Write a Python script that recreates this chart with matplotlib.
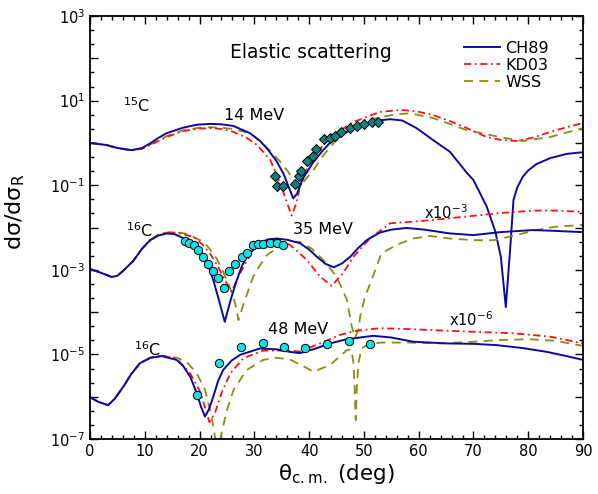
import numpy as np
import matplotlib
matplotlib.use("Agg")
import matplotlib.pyplot as plt
from matplotlib.ticker import FixedLocator, FuncFormatter, MultipleLocator

# ---- 14 MeV (15C), log10 of ratio ----
th14_ch = [0, 3, 5, 7.6, 9.5, 11, 12.5, 14, 17, 19.5, 22, 24, 26.2, 29.2, 31, 32.3, 34, 35.3, 36.3,
           37.1, 37.8, 38.9, 40.8, 42.5, 43.8, 46.9, 50, 52, 54.8, 57, 59.6, 62.6, 65.7, 68.8, 70,
           72.4, 74, 75, 75.9, 76.7, 77.3, 78, 79, 80, 81.5, 84, 87, 90]
lg14_ch = [0.0, -0.05, -0.12, -0.17, -0.12, -0.01, 0.12, 0.23, 0.36, 0.43, 0.45, 0.44, 0.40, 0.23, 0.05,
           -0.13, -0.42, -0.72, -1.05, -1.31, -1.20, -0.83, -0.45, -0.18, 0.0, 0.26, 0.44, 0.52, 0.56,
           0.53, 0.35, 0.07, -0.21, -0.71, -0.88, -1.5, -2.1, -2.7, -3.88, -2.5, -1.35, -1.05, -0.80,
           -0.65, -0.50, -0.36, -0.26, -0.22]
th14_kd = [0, 3, 5, 7.6, 9.5, 11, 14, 17, 20, 22, 24, 26, 28.6, 30.5, 32.9, 34.7, 35.8, 36.8, 37.6,
           38.3, 39.5, 40.8, 43.8, 48, 52.9, 56.6, 59.5, 62.6, 66, 68.8, 72.4, 75, 77.9, 81, 84, 87, 90]
lg14_kd = [0.0, -0.05, -0.12, -0.18, -0.14, -0.05, 0.14, 0.28, 0.34, 0.35, 0.33, 0.27, 0.12, -0.05,
           -0.40, -0.95, -1.35, -1.72, -1.45, -1.05, -0.65, -0.33, 0.14, 0.49, 0.73, 0.78, 0.75, 0.66,
           0.50, 0.35, 0.14, 0.07, 0.045, 0.13, 0.26, 0.37, 0.47]
th14_ws = [0, 3, 5, 7.6, 9.5, 11, 14, 17, 20, 22, 24, 26, 29.2, 31, 32.9, 34.7, 36.2, 37.4, 38.1,
           38.8, 40.8, 42.6, 45, 48, 52.4, 56, 58.4, 62.6, 68.8, 74.8, 79, 84, 90]
lg14_ws = [0.0, -0.05, -0.12, -0.18, -0.13, -0.04, 0.16, 0.30, 0.36, 0.37, 0.36, 0.33, 0.23, 0.05,
           -0.19, -0.44, -0.69, -0.92, -1.04, -0.95, -0.64, -0.29, 0.07, 0.38, 0.59, 0.68, 0.70, 0.59,
           0.30, 0.14, 0.045, 0.14, 0.35]
th14_exp = [33.8, 34.1, 35.3, 37.4, 38.2, 38.6, 39.7, 40.7, 41.3, 42.7, 43.8, 44.7, 45.9, 47.5,
            48.7, 50.1, 51.4, 52.6]
lg14_exp = [-0.78, -1.01, -1.01, -0.97, -0.78, -0.66, -0.43, -0.31, -0.15, 0.09, 0.11, 0.17, 0.25,
            0.36, 0.41, 0.44, 0.49, 0.50]

# ---- 35 MeV (16C), x10^-3 ----
th35_ch = [0, 2, 4, 5, 6, 7.9, 9.5, 11, 12.5, 14, 15.5, 17, 18.5, 20.1, 21.5, 22.5, 23.5, 24.6, 25.7,
           26.8, 27.7, 28.6, 31, 32.5, 34.1, 36, 38.3, 40, 41.4, 43, 44.5, 46, 47.5, 49, 50.5, 52.9,
           55, 57.8, 61, 65.7, 70, 74.8, 80.9, 85, 90]
lg35_ch = [-2.98, -3.07, -3.17, -3.14, -3.03, -2.79, -2.50, -2.30, -2.19, -2.14, -2.16, -2.25, -2.38,
           -2.57, -2.85, -3.24, -3.70, -4.23, -3.70, -3.24, -2.92, -2.69, -2.37, -2.28, -2.26, -2.29,
           -2.37, -2.52, -2.69, -2.86, -2.94, -2.85, -2.69, -2.48, -2.30, -2.12, -2.05, -2.01, -2.05,
           -2.14, -2.18, -2.11, -2.06, -2.08, -2.11]
th35_kd = [0, 2, 4, 5, 6, 7.9, 9.5, 11, 12.5, 14, 15.5, 17, 18.9, 20.5, 21.9, 23.4, 24.6, 25.9, 26.8,
           28, 29.8, 31.6, 33, 34.1, 36.5, 38, 39.6, 42, 44.1, 46.2, 48.1, 51.1, 54.8, 59, 62.7, 68.8,
           74.8, 80.9, 85, 90]
lg35_kd = [-2.98, -3.07, -3.17, -3.14, -3.03, -2.79, -2.50, -2.29, -2.17, -2.12, -2.12, -2.16, -2.22,
           -2.40, -2.61, -2.93, -3.24, -3.52, -3.24, -2.93, -2.53, -2.34, -2.29, -2.30, -2.41, -2.58,
           -2.77, -3.16, -3.38, -3.08, -2.69, -2.26, -1.90, -1.86, -1.82, -1.74, -1.66, -1.60, -1.60,
           -1.63]
th35_ws = [0, 2, 4, 5, 6, 7.9, 9.5, 11, 12.5, 14, 15.5, 17.3, 18.5, 20.1, 21.5, 23.1, 24.5, 25.6,
           26.5, 27.1, 27.8, 28.3, 29.8, 31, 32.3, 34.1, 37.1, 38.3, 40.5, 42.6, 45, 46.9, 47.8, 48.4,
           49, 49.3, 50.2, 51.4, 53.2, 56, 59, 62, 65.7, 70, 73.7, 77.8, 81.5, 85, 90]
lg35_ws = [-2.98, -3.07, -3.17, -3.14, -3.03, -2.79, -2.50, -2.29, -2.17, -2.12, -2.11, -2.14, -2.20,
           -2.30, -2.45, -2.73, -3.10, -3.44, -3.79, -4.19, -3.90, -3.71, -3.16, -2.90, -2.65, -2.49,
           -2.34, -2.34, -2.50, -2.77, -3.16, -3.71, -4.35, -4.60, -4.42, -4.11, -3.64, -3.24, -2.61,
           -2.41, -2.26, -2.20, -2.26, -2.30, -2.30, -2.18, -2.06, -1.98, -1.94]
th35_exp = [17.3, 18.1, 18.9, 19.8, 20.7, 21.5, 22.5, 23.4, 24.5, 25.4, 26.5, 27.7, 28.7, 29.7,
            30.7, 31.6, 32.9, 34.1, 35.3]
lg35_exp = [-2.31, -2.36, -2.41, -2.53, -2.70, -2.86, -3.02, -3.20, -3.42, -3.02, -2.86, -2.70,
            -2.61, -2.41, -2.39, -2.39, -2.36, -2.36, -2.41]

# ---- 48 MeV (16C), x10^-6 ----
th48_ch = [0, 1.5, 3.3, 4.5, 6.1, 7.5, 9.1, 11, 13.1, 15.8, 17, 18.3, 19.5, 20.3, 21, 21.7, 22.5,
           23.4, 24.3, 25.8, 27.4, 31, 34.1, 36.5, 38.3, 41, 43.8, 46.9, 51.7, 55, 59, 65.1, 70, 74.2,
           79, 83.4, 87, 90]
lg48_ch = [-6.01, -6.12, -6.20, -6.05, -5.76, -5.47, -5.21, -5.08, -5.04, -5.13, -5.27, -5.53, -5.92,
           -6.25, -6.47, -6.30, -6.00, -5.62, -5.37, -5.15, -5.01, -4.86, -4.88, -4.94, -4.97, -4.87,
           -4.74, -4.64, -4.56, -4.60, -4.70, -4.74, -4.75, -4.78, -4.85, -4.94, -5.04, -5.13]
th48_kd = [0, 1.5, 3.3, 4.5, 6.1, 7.5, 9.1, 11, 13.1, 15.8, 18.3, 20.1, 21, 21.8, 22.8, 24, 25.6, 28,
           31.6, 35.3, 38.3, 42, 45.6, 48.7, 52.9, 58, 65.1, 71, 77.3, 84, 90]
lg48_kd = [-6.01, -6.12, -6.20, -6.05, -5.76, -5.47, -5.21, -5.08, -5.03, -5.10, -5.45, -5.88, -6.25,
           -6.60, -6.39, -5.92, -5.45, -5.09, -4.91, -4.91, -4.93, -4.74, -4.54, -4.44, -4.38, -4.40,
           -4.44, -4.47, -4.50, -4.58, -4.74]
th48_ws = [0, 1.5, 3.3, 4.5, 6.1, 7.5, 9.1, 11, 13.1, 15.8, 17.6, 19.5, 21, 22.2, 22.8, 23.3, 24,
           25, 26.2, 28.6, 31.6, 34.1, 36.5, 38.5, 40.8, 43.8, 46.9, 47.7, 48.1, 48.3, 48.5, 48.7, 49,
           49.6, 51, 53, 58, 64, 70, 75, 80, 85, 90]
lg48_ws = [-6.01, -6.12, -6.20, -6.05, -5.76, -5.47, -5.21, -5.08, -5.03, -5.08, -5.17, -5.45, -5.84,
           -6.47, -6.95, -7.30, -6.87, -6.31, -5.84, -5.37, -5.13, -5.08, -5.12, -5.25, -5.41, -5.25,
           -4.90, -4.88, -5.21, -5.76, -6.55, -5.80, -5.20, -4.85, -4.76, -4.72, -4.72, -4.74, -4.70,
           -4.66, -4.64, -4.68, -4.80]
th48_exp = [19.6, 23.6, 27.5, 31.5, 35.4, 39.2, 43.2, 47.2, 51.1]
lg48_exp = [-5.96, -5.21, -4.83, -4.72, -4.82, -4.84, -4.75, -4.68, -4.75]

BLUE = '#0A0AA0'
RED = '#FF1010'
OLIVE = '#8C8C10'

fig = plt.figure(figsize=(5.98, 4.94), dpi=100)
ax = fig.add_axes([0.1505, 0.1113, 0.8245, 0.8563])

kd_style = dict(color=RED, lw=1.3, dashes=(4, 2, 1, 2))
ws_style = dict(color=OLIVE, lw=1.3, dashes=(5, 3.5))
ch_style = dict(color=BLUE, lw=1.4)

groups = [
    (th14_ch, lg14_ch, th14_kd, lg14_kd, th14_ws, lg14_ws),
    (th35_ch, lg35_ch, th35_kd, lg35_kd, th35_ws, lg35_ws),
    (th48_ch, lg48_ch, th48_kd, lg48_kd, th48_ws, lg48_ws),
]
for i, (tc, lc, tk, lk, tw, lw_) in enumerate(groups):
    ax.plot(tw, 10 ** np.array(lw_), label='WSS' if i == 0 else None, **ws_style)
    ax.plot(tk, 10 ** np.array(lk), label='KD03' if i == 0 else None, **kd_style)
    ax.plot(tc, 10 ** np.array(lc), label='CH89' if i == 0 else None, **ch_style)

ax.plot(th14_exp, 10 ** np.array(lg14_exp), 'D', ms=5, mfc='#108080', mec='black', mew=0.7, zorder=5)
ax.plot(th35_exp, 10 ** np.array(lg35_exp), 'o', ms=6, mfc='#10E0E8', mec='black', mew=0.7, zorder=5)
ax.plot(th48_exp, 10 ** np.array(lg48_exp), 'o', ms=6, mfc='#10E0E8', mec='black', mew=0.7, zorder=5)

ax.set_yscale('log')
ax.set_xlim(0, 90)
ax.set_ylim(1e-7, 1e3)

ax.xaxis.set_major_locator(MultipleLocator(10))
ax.xaxis.set_minor_locator(MultipleLocator(2))
decades = list(range(-7, 4))
ax.yaxis.set_major_locator(FixedLocator([10.0 ** d for d in decades]))
ax.yaxis.set_minor_locator(FixedLocator([10.0 ** (d + f) for d in decades[:-1] for f in (1 / 3, 2 / 3)]))
ax.yaxis.set_major_formatter(FuncFormatter(
    lambda v, p: r'$10^{%d}$' % round(np.log10(v)) if round(np.log10(v)) % 2 else ''))
ax.tick_params(which='both', direction='in', top=True, right=True, labelsize=10.5, width=1)
ax.tick_params(which='major', length=6)
ax.tick_params(which='minor', length=3)
for s in ax.spines.values():
    s.set_linewidth(1.3)

ax.set_xlabel('θ$_{\\rm c.m.}$ (deg)', fontsize=15.5, labelpad=2)
ax.set_ylabel('dσ/dσ$_{\\rm R}$', fontsize=16)
ax.yaxis.set_label_coords(-0.128, 0.537)

ax.text(40.3, 140, 'Elastic scattering', fontsize=13.5, ha='center', va='center')
ax.text(8.5, 7.5, r'$^{15}$C', fontsize=11.5, ha='center', va='center')
ax.text(30, 4.5, '14 MeV', fontsize=11.5, ha='center', va='center')
ax.text(9, 8.5e-3, r'$^{16}$C', fontsize=11.5, ha='center', va='center')
ax.text(42.5, 9e-3, '35 MeV', fontsize=11.5, ha='center', va='center')
ax.text(65, 2.2e-2, r'x10$^{-3}$', fontsize=10.5, ha='center', va='center')
ax.text(10.5, 1.3e-5, r'$^{16}$C', fontsize=11.5, ha='center', va='center')
ax.text(38, 3.9e-5, '48 MeV', fontsize=11.5, ha='center', va='center')
ax.text(69.5, 6.5e-5, r'x10$^{-6}$', fontsize=10.5, ha='center', va='center')

h, l = ax.get_legend_handles_labels()
order = [2, 1, 0]
ax.legend([h[k] for k in order], [l[k] for k in order], loc='upper left',
          bbox_to_anchor=(0.758, 0.941), frameon=False, fontsize=11.5, handlelength=2.3,
          handletextpad=0.3, labelspacing=0.12, borderpad=0, borderaxespad=0)

fig.savefig('out.png', dpi=100)
